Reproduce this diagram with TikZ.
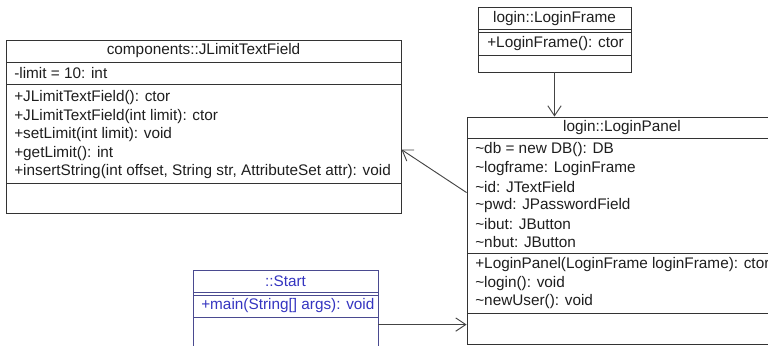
\documentclass[tikz,border=0pt]{standalone}
\usepackage{fontspec}
\setmainfont{Liberation Sans}
\usetikzlibrary{arrows.meta,fit}
\definecolor{umlline}{HTML}{333333}
\definecolor{arrowline}{HTML}{444444}
\definecolor{startline}{HTML}{4A4A90}
\definecolor{starttext}{HTML}{3535C0}
\definecolor{rowtext}{HTML}{1E1E1E}
\begin{document}
\begin{tikzpicture}[x=0.75pt,y=-0.75pt,
  box/.style={draw=umlline,line width=0.65pt,inner sep=0pt},
  row/.style={anchor=west,inner sep=0pt,text=rowtext,font=\fontsize{11.5}{13}\selectfont},
  head/.style={inner sep=0pt,text=rowtext,font=\fontsize{11.5}{13}\selectfont},
  assoc/.style={draw=arrowline,line width=0.7pt,-{Straight Barb[length=7.5pt,width=10pt]}}]
 \useasboundingbox (0,0) rectangle (768,346);
 \clip (0,0) rectangle (768,346);
 % components::JLimitTextField
 \node[box,fit={(6,40) (401,213)}] (field) {};
 \draw[umlline,line width=0.65pt] (6,62)--(401,62);
 \draw[umlline,line width=0.65pt] (6,84)--(401,84);
 \draw[umlline,line width=0.65pt] (6,183)--(401,183);
 \node[head] (fieldname) at (203.5,51) {components::JLimitTextField};
 \node[row] (fa1) at (14,73) {-limit = 10: int};
 \node[row] (fm1) at (14,98) {+JLimitTextField(): ctor};
 \node[row] (fm2) at (14,116.5) {+JLimitTextField(int limit): ctor};
 \node[row] (fm3) at (14,135) {+setLimit(int limit): void};
 \node[row] (fm4) at (14,153.5) {+getLimit(): int};
 \node[row] (fm5) at (14,172) {+insertString(int offset, String str, AttributeSet attr): void};
 % login::LoginFrame
 \node[box,fit={(478,7) (631,72)}] (frame) {};
 \draw[umlline,line width=0.65pt] (478,29)--(631,29);
 \draw[umlline,line width=0.65pt] (478,32.5)--(631,32.5);
 \draw[umlline,line width=0.65pt] (478,55)--(631,55);
 \node[head] (framename) at (554.5,19) {login::LoginFrame};
 \node[row] (frm1) at (487,44) {+LoginFrame(): ctor};
 % login::LoginPanel
 \node[box,fit={(467,117) (777,344)}] (panel) {};
 \draw[umlline,line width=0.65pt] (467,138)--(777,138);
 \draw[umlline,line width=0.65pt] (467,253)--(777,253);
 \draw[umlline,line width=0.65pt] (467,313)--(777,313);
 \node[head] (panelname) at (622,127.5) {login::LoginPanel};
 \node[row] (pa1) at (475,150) {\textasciitilde db = new DB(): DB};
 \node[row] (pa2) at (475,168.5) {\textasciitilde logframe: LoginFrame};
 \node[row] (pa3) at (475,187) {\textasciitilde id: JTextField};
 \node[row] (pa4) at (475,205.5) {\textasciitilde pwd: JPasswordField};
 \node[row] (pa5) at (475,224) {\textasciitilde ibut: JButton};
 \node[row] (pa6) at (475,242.5) {\textasciitilde nbut: JButton};
 \node[row] (pm1) at (475,265) {+LoginPanel(LoginFrame loginFrame): ctor};
 \node[row] (pm2) at (475,283.5) {\textasciitilde login(): void};
 \node[row] (pm3) at (475,302) {\textasciitilde newUser(): void};
 % ::Start
 \node[box,draw=startline,fit={(193,270) (378,360)}] (start) {};
 \draw[startline,line width=0.65pt] (193,292)--(378,292);
 \draw[startline,line width=0.65pt] (193,295.5)--(378,295.5);
 \draw[startline,line width=0.65pt] (193,317)--(378,317);
 \node[head,text=starttext] (startname) at (285.5,281.5) {::Start};
 \node[row,text=starttext] (sm1) at (201,306) {+main(String[] args): void};
 % associations
 \draw[assoc] (frame.south) -- (frame.south |- panel.north);
 \path (panel.north west) ++(0,76) coordinate (panelout);
 \path (field.north east) ++(0,110) coordinate (fieldin);
 \draw[assoc] (panelout) -- (fieldin);
 \path (start.north east) ++(0,55) coordinate (startout);
 \draw[assoc] (startout) -- (startout -| panel.west);
\end{tikzpicture}
\end{document}
